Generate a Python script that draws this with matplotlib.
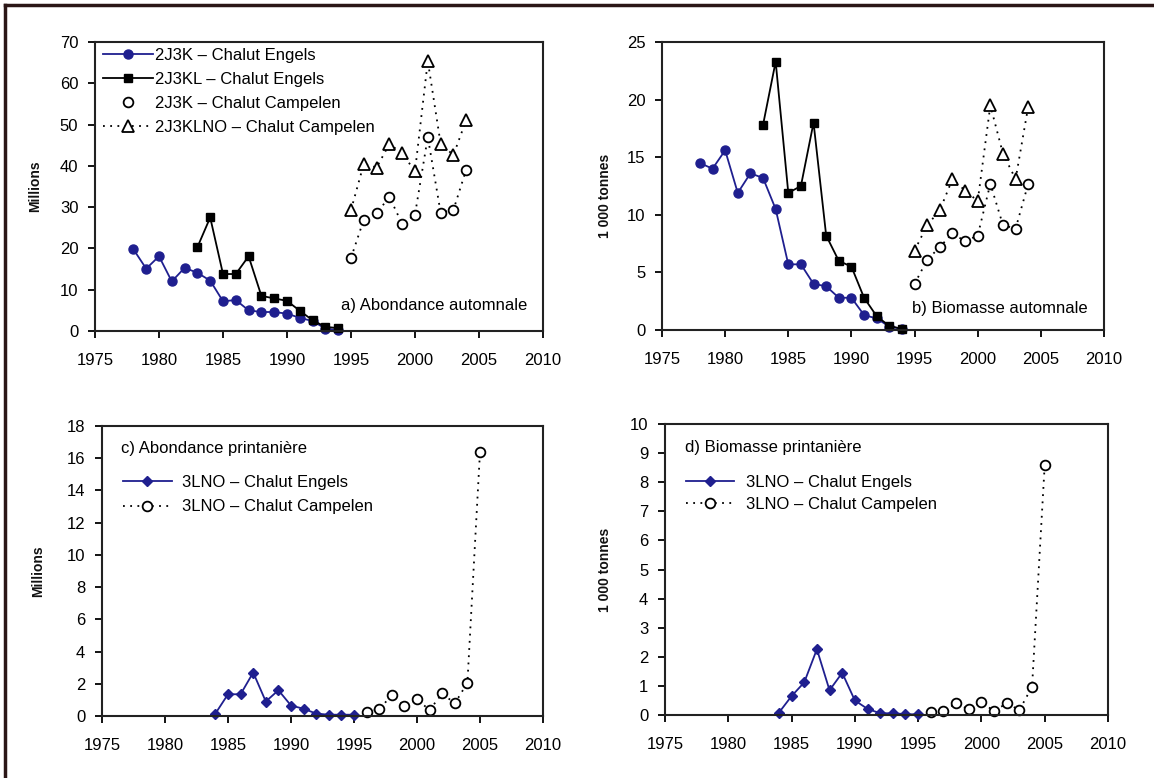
import matplotlib.pyplot as plt
from matplotlib.lines import Line2D
import numpy as np

plt.rcParams['font.family'] = ['Liberation Sans', 'DejaVu Sans']
plt.rcParams['font.size'] = 12

# automne : relevés Engels (1978-1994) et Campelen (1995-2004)
years_2j3k_eng = np.arange(1978, 1995)
abund_2j3k_eng = [19.8, 15.1, 18.1, 12.0, 15.3, 14.1, 12.2, 7.2, 7.5, 5.0, 4.6, 4.6, 4.2, 3.2, 2.4, 0.6, 0.2]
biom_2j3k_eng = [14.5, 14.0, 15.6, 11.9, 13.6, 13.2, 10.5, 5.7, 5.7, 4.0, 3.8, 2.8, 2.8, 1.3, 1.0, 0.3, 0.1]

years_2j3kl_eng = np.arange(1983, 1995)
abund_2j3kl_eng = [20.3, 27.5, 13.8, 13.8, 18.1, 8.5, 7.9, 7.3, 4.9, 2.6, 1.0, 0.7]
biom_2j3kl_eng = [17.8, 23.3, 11.9, 12.5, 18.0, 8.2, 6.0, 5.5, 2.8, 1.2, 0.35, 0.1]

years_camp_aut = np.arange(1995, 2005)
abund_2j3k_camp = [17.7, 27.0, 28.5, 32.5, 25.9, 28.2, 47.0, 28.7, 29.3, 39.1]
abund_2j3klno_camp = [29.3, 40.5, 39.6, 45.3, 43.0, 38.7, 65.4, 45.4, 42.6, 51.1]
biom_2j3k_camp = [4.0, 6.1, 7.2, 8.4, 7.7, 8.2, 12.7, 9.1, 8.8, 12.7]
biom_2j3klno_camp = [6.9, 9.1, 10.4, 13.1, 12.1, 11.2, 19.5, 15.3, 13.1, 19.4]

# printemps : 3LNO
years_3lno_eng = np.arange(1984, 1996)
abund_3lno_eng = [0.15, 1.35, 1.35, 2.7, 0.9, 1.6, 0.65, 0.45, 0.15, 0.08, 0.08, 0.08]
biom_3lno_eng = [0.08, 0.65, 1.12, 2.26, 0.85, 1.45, 0.50, 0.21, 0.06, 0.06, 0.03, 0.02]

years_3lno_camp = np.arange(1996, 2006)
abund_3lno_camp = [0.27, 0.41, 1.3, 0.62, 1.03, 0.37, 1.4, 0.78, 2.06, 16.4]
biom_3lno_camp = [0.11, 0.14, 0.40, 0.19, 0.43, 0.14, 0.40, 0.17, 0.97, 8.6]

navy = '#1f1f8f'
dotted = (0, (1, 3))
W, H = 1154, 778

fig = plt.figure(figsize=(W / 100, H / 100), dpi=100)


def box(left, top, right, bottom):
    return [left / W, 1 - bottom / H, (right - left) / W, (bottom - top) / H]


def style_axes(ax, ymax, ystep, ylabel, label_x, label_y=0.5):
    ax.set_xlim(1975, 2010)
    ax.set_ylim(0, ymax)
    ax.set_xticks(np.arange(1975, 2011, 5))
    ax.set_yticks(np.arange(0, ymax + 0.1, ystep))
    ax.tick_params(axis='x', direction='out', length=5, width=1.3, pad=11, labelsize=12)
    ax.tick_params(axis='y', direction='out', length=5, width=1.3, pad=7, labelsize=12)
    for s in ax.spines.values():
        s.set_linewidth(1.5)
        s.set_color('#222222')
    ax.set_ylabel(ylabel, fontsize=10, fontweight='bold', color='#111111')
    ax.yaxis.set_label_coords(label_x, label_y)


# a) abondance automnale
ax1 = fig.add_axes(box(95, 42, 543, 331))
ax1.plot(years_2j3k_eng, abund_2j3k_eng, color=navy, lw=1.3, marker='o', ms=6.5, clip_on=False)
ax1.plot(years_2j3kl_eng, abund_2j3kl_eng, color='black', lw=1.3, marker='s', ms=5.5, clip_on=False)
ax1.plot(years_camp_aut, abund_2j3k_camp, color='black', ls=dotted, lw=1.3, marker='o', ms=7,
         mfc='white', mec='black', mew=1.3, clip_on=False)
ax1.plot(years_camp_aut, abund_2j3klno_camp, color='black', ls=dotted, lw=1.3, marker='^', ms=8,
         mfc='white', mec='black', mew=1.3, clip_on=False)
style_axes(ax1, 70, 10, 'Millions', -0.118)
handles = [Line2D([], [], color=navy, lw=1.3, marker='o', ms=6.5),
           Line2D([], [], color='black', lw=1.3, marker='s', ms=5.5),
           Line2D([], [], ls='none', marker='o', ms=7, mfc='white', mec='black', mew=1.3),
           Line2D([], [], color='black', ls=dotted, lw=1.3, marker='^', ms=8, mfc='white', mec='black', mew=1.3)]
ax1.legend(handles, ['2J3K – Chalut Engels', '2J3KL – Chalut Engels', '2J3K – Chalut Campelen',
                     '2J3KLNO – Chalut Campelen'],
           loc='upper left', bbox_to_anchor=(0.018, 0.98), frameon=False, borderpad=0, borderaxespad=0,
           handlelength=3.0, handletextpad=0.1, labelspacing=0.55, fontsize=12)
ax1.text(0.964, 0.087, 'a) Abondance automnale', transform=ax1.transAxes, ha='right', va='center', fontsize=12)

# b) biomasse automnale
ax2 = fig.add_axes(box(662, 42, 1104, 330))
ax2.plot(years_2j3k_eng, biom_2j3k_eng, color=navy, lw=1.3, marker='o', ms=6.5, clip_on=False)
ax2.plot(years_2j3kl_eng, biom_2j3kl_eng, color='black', lw=1.3, marker='s', ms=5.5, clip_on=False)
ax2.plot(years_camp_aut, biom_2j3k_camp, color='black', ls=dotted, lw=1.3, marker='o', ms=7,
         mfc='white', mec='black', mew=1.3, clip_on=False)
ax2.plot(years_camp_aut, biom_2j3klno_camp, color='black', ls=dotted, lw=1.3, marker='^', ms=8,
         mfc='white', mec='black', mew=1.3, clip_on=False)
style_axes(ax2, 25, 5, '1 000 tonnes', -0.113, 0.465)
ax2.text(0.964, 0.076, 'b) Biomasse automnale', transform=ax2.transAxes, ha='right', va='center', fontsize=12)

# c) abondance printanière
ax3 = fig.add_axes(box(102, 426, 543, 716))
ax3.plot(years_3lno_eng, abund_3lno_eng, color=navy, lw=1.3, marker='D', ms=5.5, clip_on=False, label='3LNO – Chalut Engels')
ax3.plot(years_3lno_camp, abund_3lno_camp, color='black', ls=dotted, lw=1.3, marker='o', ms=7,
         mfc='white', mec='black', mew=1.3, clip_on=False, label='3LNO – Chalut Campelen')
style_axes(ax3, 18, 2, 'Millions', -0.129)
ax3.legend(loc='upper left', bbox_to_anchor=(0.048, 0.83), frameon=False, borderpad=0, borderaxespad=0,
           handlelength=2.9, handletextpad=0.6, labelspacing=0.55, fontsize=12)
ax3.text(0.043, 0.924, 'c) Abondance printanière', transform=ax3.transAxes, ha='left', va='center', fontsize=12)

# d) biomasse printanière
ax4 = fig.add_axes(box(665, 424, 1108, 715))
ax4.plot(years_3lno_eng, biom_3lno_eng, color=navy, lw=1.3, marker='D', ms=5.5, clip_on=False, label='3LNO – Chalut Engels')
ax4.plot(years_3lno_camp, biom_3lno_camp, color='black', ls=dotted, lw=1.3, marker='o', ms=7,
         mfc='white', mec='black', mew=1.3, clip_on=False, label='3LNO – Chalut Campelen')
style_axes(ax4, 10, 1, '1 000 tonnes', -0.12)
ax4.legend(loc='upper left', bbox_to_anchor=(0.047, 0.825), frameon=False, borderpad=0, borderaxespad=0,
           handlelength=2.9, handletextpad=0.7, labelspacing=0.4, fontsize=12)
ax4.text(0.045, 0.918, 'd) Biomasse printanière', transform=ax4.transAxes, ha='left', va='center', fontsize=12)

# cadre sombre en haut et à gauche
fig.add_artist(Line2D([5 / W, 5 / W], [0, 1 - 5 / H], color='#2b1616', lw=2.5))
fig.add_artist(Line2D([5 / W, 1], [1 - 5 / H, 1 - 5 / H], color='#2b1616', lw=2.5))

fig.savefig('out.png', dpi=100)
